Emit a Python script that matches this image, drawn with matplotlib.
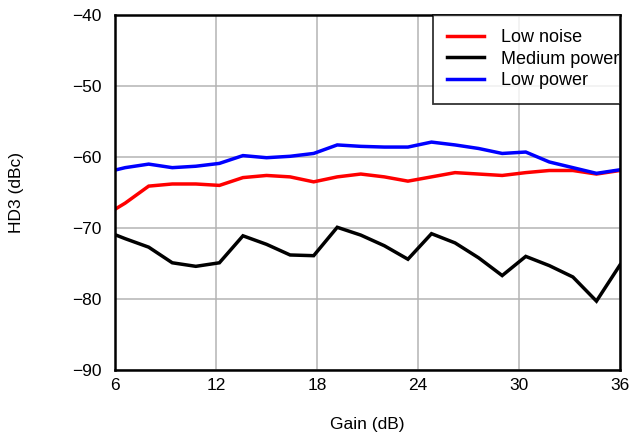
import numpy as np
import matplotlib.pyplot as plt

plt.rcParams['font.family'] = ['Liberation Sans', 'DejaVu Sans']
plt.rcParams['axes.unicode_minus'] = True

# Gain steps (dB)
gain = [5.2, 6.6, 8.0, 9.4, 10.8, 12.2, 13.6, 15.0, 16.4, 17.8, 19.2, 20.6,
        22.0, 23.4, 24.8, 26.2, 27.6, 29.0, 30.4, 31.8, 33.2, 34.6, 36.0]

# HD3 (dBc) per mode
low_noise = [-68.5, -66.5, -64.1, -63.8, -63.8, -64.0, -62.9, -62.6, -62.8, -63.5, -62.8, -62.4,
             -62.8, -63.4, -62.8, -62.2, -62.4, -62.6, -62.2, -61.9, -61.9, -62.4, -61.9]
medium_power = [-70.2, -71.5, -72.7, -74.9, -75.4, -74.9, -71.1, -72.3, -73.8, -73.9, -69.9, -71.0,
                -72.5, -74.4, -70.8, -72.1, -74.2, -76.7, -74.0, -75.3, -76.9, -80.3, -75.2]
low_power = [-62.3, -61.5, -61.0, -61.5, -61.3, -60.9, -59.8, -60.1, -59.9, -59.5, -58.3, -58.5,
             -58.6, -58.6, -57.9, -58.3, -58.8, -59.5, -59.3, -60.7, -61.5, -62.3, -61.8]

fig = plt.figure(figsize=(6.31, 4.34), dpi=100)
ax = fig.add_axes([0.1823, 0.1475, 0.8003, 0.8179])

ax.plot(gain, low_noise, color='#ff0000', lw=2.5, label='Low noise', solid_joinstyle='miter')
ax.plot(gain, medium_power, color='#000000', lw=2.5, label='Medium power', solid_joinstyle='miter')
ax.plot(gain, low_power, color='#0000ff', lw=2.5, label='Low power', solid_joinstyle='miter')

ax.set_xlim(6, 36)
ax.set_ylim(-90, -40)
ax.set_xticks(np.arange(6, 37, 6))
ax.set_yticks(np.arange(-90, -39, 10))
ax.tick_params(length=0, labelsize=12.5)
ax.tick_params(axis='x', pad=6)
ax.tick_params(axis='y', pad=10)
ax.grid(True, color='#b4b4b4', lw=1.1)
ax.set_axisbelow(True)
for s in ax.spines.values():
    s.set_linewidth(1.8)

ax.set_xlabel('Gain (dB)', fontsize=12.5, labelpad=17)
ax.set_ylabel('HD3 (dBc)', fontsize=12.5, labelpad=34)

leg = ax.legend(loc='upper left', bbox_to_anchor=(0.63, 0, 0.37, 1.0), mode='expand',
                fontsize=13, frameon=True, fancybox=False, edgecolor='black',
                borderaxespad=0, handlelength=2.05, handletextpad=0.95,
                labelspacing=0.26, borderpad=0.78)
leg.get_frame().set_linewidth(1.3)
for t in leg.get_texts():
    t.set_clip_box(ax.bbox)
    t.set_clip_on(True)

fig.savefig('out.png', dpi=100)
